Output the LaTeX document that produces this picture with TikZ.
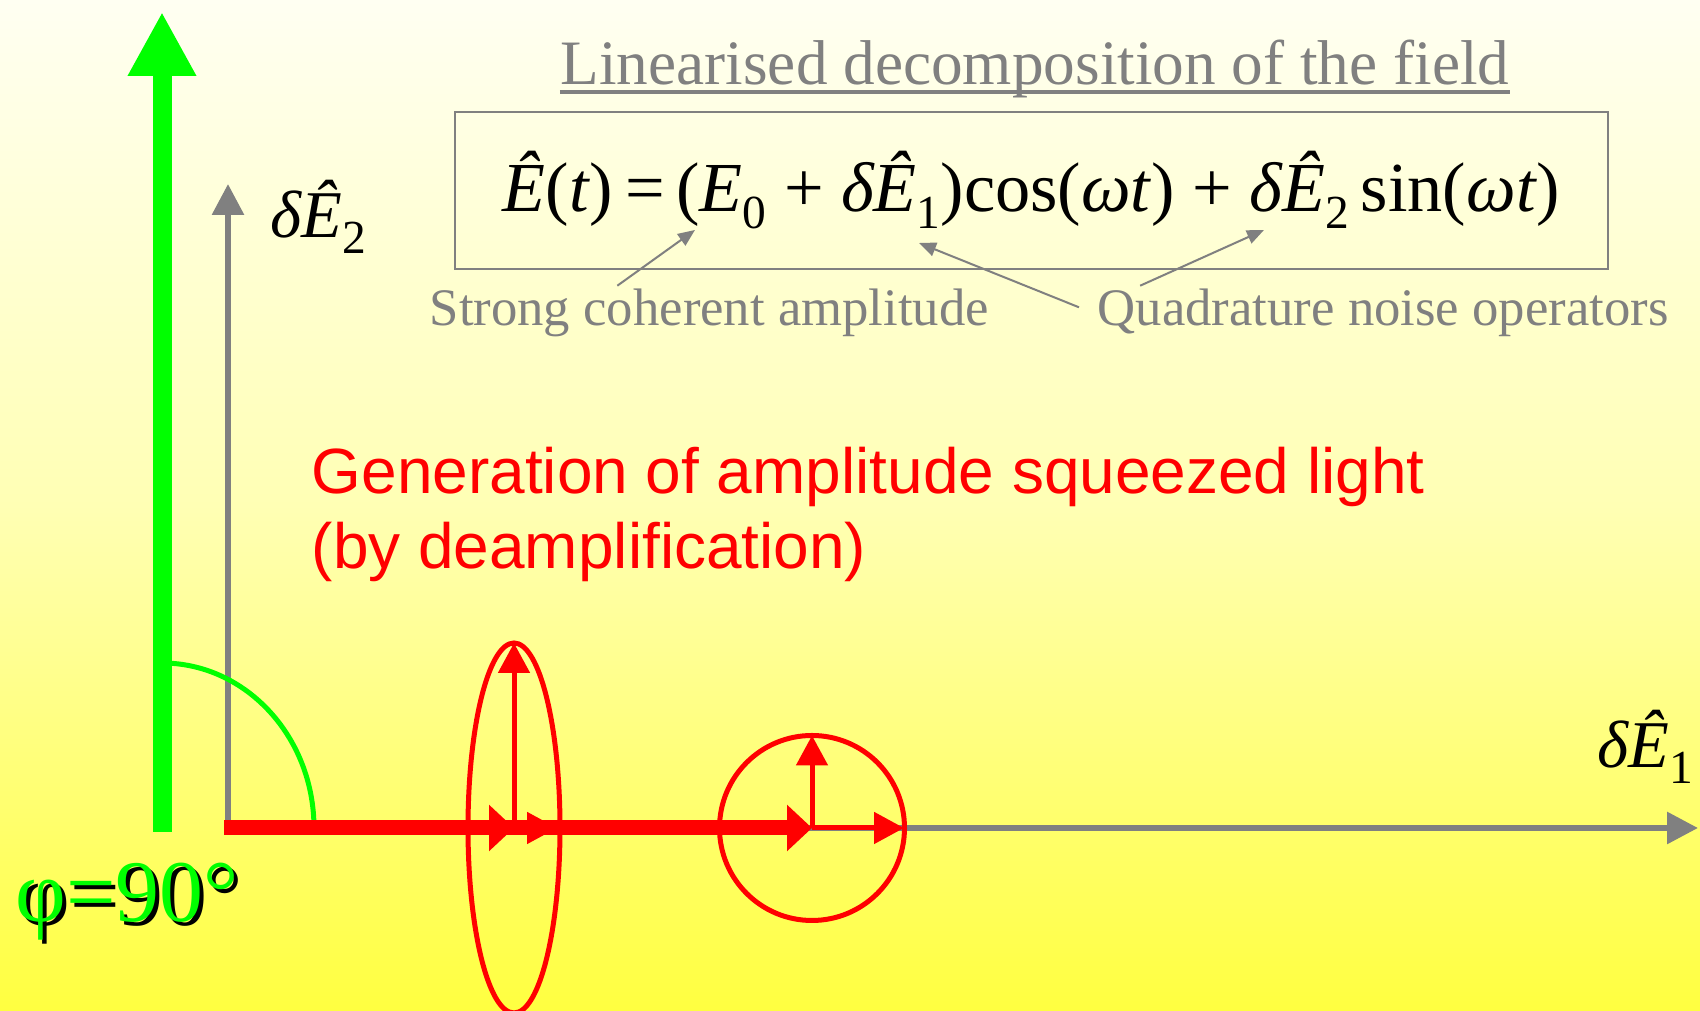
\documentclass[tikz,border=0pt]{standalone}
\usepackage{fontspec}
\setmainfont{Liberation Serif}
\newfontfamily\arialfont{Liberation Sans}
\usepackage{xcolor}
\usetikzlibrary{arrows.meta}
\definecolor{paleyellow}{RGB}{255,255,242}
\definecolor{midyellow}{RGB}{255,255,180}
\definecolor{deepyellow}{RGB}{255,255,64}
\newcommand{\lowidx}[1]{\raisebox{-0.24em}{\fontsize{13.5}{14}\selectfont #1}}
\newcommand{\dEhat}[1]{\textit{δÊ}\lowidx{#1}}

\begin{document}
\begin{tikzpicture}[
    axis/.style={gray, line width=0.06cm, -{Triangle[length=0.31cm,width=0.31cm]}},
    bigred/.style={red, line width=0.15cm, -{Triangle[length=0.25cm,width=0.45cm]}},
    noise/.style={red, line width=0.05cm, -{Triangle[length=0.3cm,width=0.31cm]}},
    note/.style={gray, line width=0.02cm, -{Triangle[length=0.17cm,width=0.14cm]}},
    noisearea/.style={draw=red, line width=0.05cm},
    axislabel/.style={font=\fontsize{19}{23}\selectfont, inner sep=0pt},
    notelabel/.style={gray, font=\fontsize{15}{18}\selectfont, inner sep=0pt, anchor=base west},
    phase/.style={font=\fontsize{25}{30}\selectfont, inner sep=0pt, anchor=base west},
  ]
    \clip (0,0) rectangle (17,10.11);
    \shade[top color=paleyellow, bottom color=deepyellow, middle color=midyellow] (0,0) rectangle (17,10.11);
    % axes of the phase space
    \coordinate (O) at (2.28,1.83);
    \coordinate (Xtip) at (16.98,1.83);
    \coordinate (Ytip) at (2.28,8.27);
    \draw[axis] (O) -- (Xtip);
    \draw[axis] (O) -- (Ytip);
    \node[axislabel] (d2) at (3.18,7.94) {\dEhat{2}};
    \node[axislabel] (d1) at (16.45,2.64) {\dEhat{1}};
    % pump phase
    \coordinate (G0) at (1.62,1.79);
    \coordinate (Gtip) at (1.62,9.99);
    \draw[green, line width=0.05cm] (G0 |- O) ++(1.52,0) arc[start angle=0, end angle=90, x radius=1.52, y radius=1.65];
    \draw[green, line width=0.19cm, -{Triangle[length=0.64cm,width=0.64cm]}] (G0) -- (Gtip);
    \node[phase, text=black] (phishadow) at (0.19,0.855) {φ=90°};
    \node[phase, text=green] (phi) at (0.15,0.89) {φ=90°};
    % noise ellipse and coherent circle
    \coordinate (Ec) at (5.14,1.83);
    \coordinate (Etop) at (5.14,3.68);
    \coordinate (Eright) at (5.57,1.83);
    \coordinate (Cc) at (8.12,1.83);
    \coordinate (Ctop) at (8.12,2.755);
    \coordinate (Cright) at (9.04,1.83);
    \draw[noisearea] (Ec) ellipse[x radius=0.46, y radius=1.85];
    \draw[noisearea] (Cc) circle[radius=0.925];
    \draw[bigred] ([xshift=-0.04cm]O) -- (Cc);
    \draw[bigred] ([xshift=-0.04cm]O) -- (Ec);
    \draw[noise] (Ec) -- (Etop);
    \draw[noise] (Ec) -- (Eright);
    \draw[noise] (Cc) -- (Ctop);
    \draw[noise] (Cc) -- (Cright);
    \node[red, font=\arialfont\fontsize{18.2}{21.6}\selectfont, align=left, inner sep=0pt, anchor=north west] (squeeze) at (3.11,5.65) {Generation of amplitude squeezed light\\(by deamplification)};
    % field decomposition
    \node[gray, font=\fontsize{18}{22}\selectfont, inner sep=0pt, anchor=base] (title) at (10.35,9.26) {Linearised decomposition of the field};
    \draw[gray, line width=0.035cm] ([yshift=-0.07cm]title.base west) -- ([yshift=-0.07cm]title.base east);
    \node[draw=gray, line width=0.025cm, minimum width=11.53cm, minimum height=1.57cm, font=\fontsize{20}{24}\selectfont] (eq) at (10.315,8.205)
      {\textit{Ê}(\textit{t})\,=\,(\textit{E}\lowidx{0} + \dEhat{1})cos(\textit{ωt}) + \dEhat{2}\,sin(\textit{ωt})};
    \node[notelabel] (coherent) at (4.29,6.85) {Strong coherent amplitude};
    \node[notelabel] (quad) at (10.97,6.85) {Quadrature noise operators};
    \coordinate (pE0) at (6.95,7.81);
    \coordinate (pdE1) at (9.19,7.68);
    \coordinate (pdE2) at (12.64,7.81);
    \draw[note] ([xshift=-0.92cm,yshift=0.03cm]coherent.north) -- (pE0);
    \draw[note] ([xshift=-0.18cm,yshift=0.06cm]quad.west) -- (pdE1);
    \draw[note] ([xshift=-2.43cm,yshift=0.03cm]quad.north) -- (pdE2);
\end{tikzpicture}
\end{document}
